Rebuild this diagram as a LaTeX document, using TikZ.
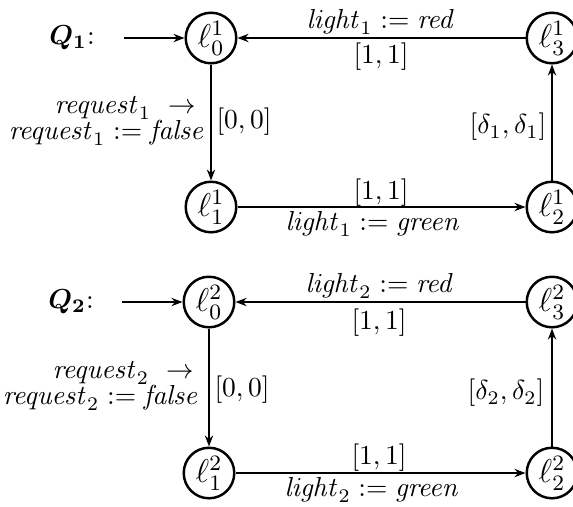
\documentclass[tikz,border=0pt]{standalone}
\usepackage{amsmath}
\usetikzlibrary{arrows.meta}
\begin{document}
\begin{tikzpicture}[x=0.364pt,y=-0.364pt,
  loc/.style={circle,draw,line width=0.9pt,minimum size=18.4pt,inner sep=0pt,font=\large},
  edge/.style={line width=0.9pt,-{Stealth[length=4pt,width=3pt]}},
  lbl/.style={inner sep=0pt}]
\useasboundingbox (0,0) rectangle (573,506);
% Q1
\node[lbl] (q1) at (72,38) {$\boldsymbol{Q_1}$:};
\coordinate (s1) at (124,38);
\node[loc] (a0) at (211,38) {$\ell^1_0$};
\node[loc] (a3) at (552,38) {$\ell^1_3$};
\node[loc] (a1) at (211,207) {$\ell^1_1$};
\node[loc] (a2) at (552,207) {$\ell^1_2$};
\draw[edge] (s1) -- (a0);
\draw[edge] (a3) -- (a0);
\draw[edge] (a0) -- (a1);
\draw[edge] (a1) -- (a2);
\draw[edge] (a2) -- (a3);
\node[lbl] (t1) at (381,22) {$\mathit{light}_1 := \mathit{red}$};
\node[lbl] (t2) at (381,57) {$[1,1]$};
\node[lbl] (t3) at (125,108) {$\mathit{request}_1\ \rightarrow$};
\node[lbl] (t4) at (107,133) {$\mathit{request}_1 := \mathit{false}$};
\node[lbl] (t5) at (244,122) {$[0,0]$};
\node[lbl] (t6) at (508,127) {$[\delta_1,\delta_1]$};
\node[lbl] (t7) at (381,193) {$[1,1]$};
\node[lbl] (t8) at (373,224) {$\mathit{light}_1 := \mathit{green}$};
% Q2
\node[lbl] (q2) at (71,302) {$\boldsymbol{Q_2}$:};
\coordinate (s2) at (122,302);
\node[loc] (b0) at (209,302) {$\ell^2_0$};
\node[loc] (b3) at (552,302) {$\ell^2_3$};
\node[loc] (b1) at (209,473) {$\ell^2_1$};
\node[loc] (b2) at (552,473) {$\ell^2_2$};
\draw[edge] (s2) -- (b0);
\draw[edge] (b3) -- (b0);
\draw[edge] (b0) -- (b1);
\draw[edge] (b1) -- (b2);
\draw[edge] (b2) -- (b3);
\node[lbl] (u1) at (380,286) {$\mathit{light}_2 := \mathit{red}$};
\node[lbl] (u2) at (379,323) {$[1,1]$};
\node[lbl] (u3) at (123,373) {$\mathit{request}_2\ \rightarrow$};
\node[lbl] (u4) at (101,398) {$\mathit{request}_2 := \mathit{false}$};
\node[lbl] (u5) at (242,390) {$[0,0]$};
\node[lbl] (u6) at (506,393) {$[\delta_2,\delta_2]$};
\node[lbl] (u7) at (379,458) {$[1,1]$};
\node[lbl] (u8) at (372,490) {$\mathit{light}_2 := \mathit{green}$};
\end{tikzpicture}
\end{document}
